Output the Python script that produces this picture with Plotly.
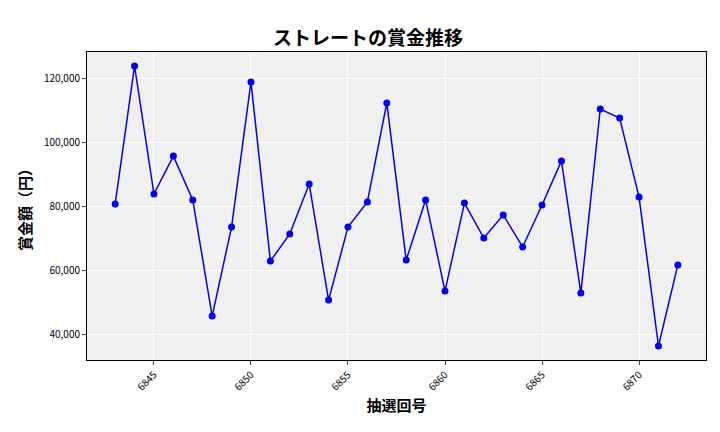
import plotly.graph_objects as go

draws = list(range(6843, 6873))
prizes = [80600, 123750, 83750, 95600, 81900, 45600, 73400, 118750, 62800, 71250,
          86900, 50600, 73400, 81250, 112200, 63100, 81900, 53400, 80900, 70000,
          77200, 67200, 80300, 94100, 52800, 110300, 107500, 82800, 36250, 61600]
tick_vals = [6845, 6850, 6855, 6860, 6865, 6870]

fig = go.Figure(go.Scatter(x=draws, y=prizes, mode="lines+markers",
                           line=dict(color="#0000ee", width=1.5),
                           marker=dict(color="#0000ee", size=7)))
fig.update_layout(
    width=720, height=432, margin=dict(l=79, r=22, t=44, b=80),
    paper_bgcolor="white", plot_bgcolor="#f0f0f0",
    font=dict(family="Noto Sans CJK JP", color="black"),
    title=dict(text="<b>ストレートの賞金推移</b>", x=0.5, y=0.945, xanchor="center",
               font=dict(size=19)),
    showlegend=False,
)
fig.update_xaxes(range=[6841.55, 6873.45], tickvals=tick_vals, tickangle=-45,
                 tickfont=dict(size=10), gridcolor="white", showline=True,
                 linecolor="black", mirror=True, ticks="outside", ticklen=4,
                 title=dict(text="<b>抽選回号</b>", font=dict(size=15), standoff=8), zeroline=False)
fig.update_yaxes(range=[31875, 128125], tickvals=[40000, 60000, 80000, 100000, 120000],
                 tickformat=",", tickfont=dict(size=10), gridcolor="white", showline=True,
                 linecolor="black", mirror=True, ticks="outside", ticklen=4,
                 title=dict(text="<b>賞金額（円）</b>", font=dict(size=15), standoff=8), zeroline=False)
fig.write_html("out.html")
